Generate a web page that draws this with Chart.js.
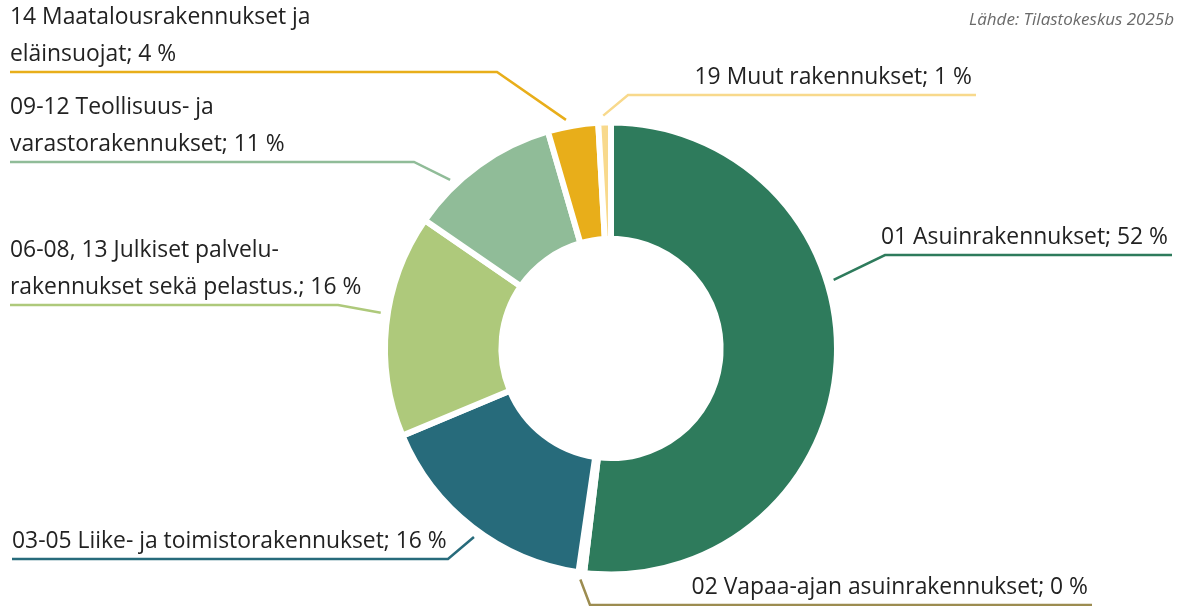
<!DOCTYPE html>
<html lang="fi">
<head>
<meta charset="utf-8">
<script src="https://cdn.jsdelivr.net/npm/chart.js@4.4.1/dist/chart.umd.min.js"></script>
<style>
    html, body { margin: 0; padding: 0; background: #fff; }
    #wrap { position: relative; width: 1184px; height: 606px; }
</style>
</head>
<body>
<div id="wrap"><canvas id="chart" width="1184" height="606"></canvas></div>
<script>
// Rakennusluokat ja osuudet (%)
const categories = [
    '01 Asuinrakennukset',
    '02 Vapaa-ajan asuinrakennukset',
    '03-05 Liike- ja toimistorakennukset',
    '06-08, 13 Julkiset palvelu-\nrakennukset sekä pelastus.',
    '09-12 Teollisuus- ja\nvarastorakennukset',
    '14 Maatalousrakennukset ja\neläinsuojat',
    '19 Muut rakennukset'
];
const shares = [51.9, 0.4, 16.4, 15.9, 10.9, 3.6, 0.9];
const sourceNote = 'Lähde: Tilastokeskus 2025b';

const sliceColors = ['#2e7b5c', '#9c8c50', '#276b7b', '#aec97b', '#90bc98', '#e8ae1a', '#f8d98c'];

// where each callout goes: elbow point, far end of the underline, side, spot on the slice
const labelLayout = [
    { ex: 885, ey: 255, fx: 1172, side: 'right', frac: 0.39 },
    { ex: 590, ey: 605, fx: 1092, side: 'right', frac: 0.5 },
    { ex: 448, ey: 559, fx: 12, side: 'left', frac: 0.47 },
    { ex: 338, ey: 305, fx: 10, side: 'left', frac: 0.55 },
    { ex: 414, ey: 162, fx: 10, side: 'left', frac: 0.3 },
    { ex: 497, ey: 72, fx: 10, side: 'left', frac: 0.39 },
    { ex: 628, ey: 95, fx: 976, side: 'right', frac: 0.41 }
];

const fontFamily = '"Open Sans", "Noto Sans", sans-serif';

// Excel-tyyliset selitteet viivoineen
const calloutPlugin = {
    id: 'callouts',
    afterDatasetsDraw(chart) {
        const ctx = chart.ctx;
        const meta = chart.getDatasetMeta(0);
        ctx.save();

        // sovitetaan fonttikoko alkuperäisen tekstin leveyteen
        ctx.font = '100px ' + fontFamily;
        const w = ctx.measureText('03-05 Liike- ja toimistorakennukset; 16 %').width;
        const size = 100 * 435 / w;
        ctx.font = size.toFixed(2) + 'px ' + fontFamily;

        meta.data.forEach((arc, i) => {
            const p = arc.getProps(['x', 'y', 'startAngle', 'endAngle', 'outerRadius'], true);
            const lay = labelLayout[i];
            const a = p.startAngle + (p.endAngle - p.startAngle) * lay.frac;
            const r = p.outerRadius + 7;
            const sx = p.x + Math.cos(a) * r;
            const sy = p.y + Math.sin(a) * r;

            ctx.strokeStyle = sliceColors[i];
            ctx.lineWidth = 2.5;
            ctx.lineJoin = 'miter';
            ctx.beginPath();
            ctx.moveTo(sx, sy);
            ctx.lineTo(lay.ex, lay.ey);
            ctx.lineTo(lay.fx, lay.ey);
            ctx.stroke();

            const lines = (categories[i] + '; ' + Math.round(shares[i]) + ' %').split('\n');
            ctx.fillStyle = '#222';
            ctx.textBaseline = 'alphabetic';
            ctx.textAlign = lay.side === 'right' ? 'right' : 'left';
            const tx = lay.side === 'right' ? lay.fx - 4 : lay.fx;
            lines.forEach((ln, k) => {
                const y = lay.ey - 11 - (lines.length - 1 - k) * 37;
                ctx.fillText(ln, tx, y);
            });
        });

        // lähde
        ctx.font = 'italic 17px ' + fontFamily;
        ctx.fillStyle = '#6a6a6a';
        ctx.textAlign = 'right';
        ctx.fillText(sourceNote, 1174, 25);
        ctx.restore();
    }
};

const ctx = document.getElementById('chart').getContext('2d');
const chart = new Chart(ctx, {
    type: 'doughnut',
    data: {
        labels: categories,
        datasets: [{
            data: shares,
            backgroundColor: sliceColors,
            borderColor: '#ffffff',
            borderWidth: 6,
            hoverOffset: 0
        }]
    },
    options: {
        responsive: false,
        devicePixelRatio: 1,
        animation: false,
        cutout: '48.5%',
        layout: {
            padding: { left: 382, right: 344, top: 119.5, bottom: 28.5 }
        },
        plugins: {
            legend: { display: false },
            tooltip: { enabled: false }
        }
    },
    plugins: [calloutPlugin]
});
</script>
</body>
</html>
